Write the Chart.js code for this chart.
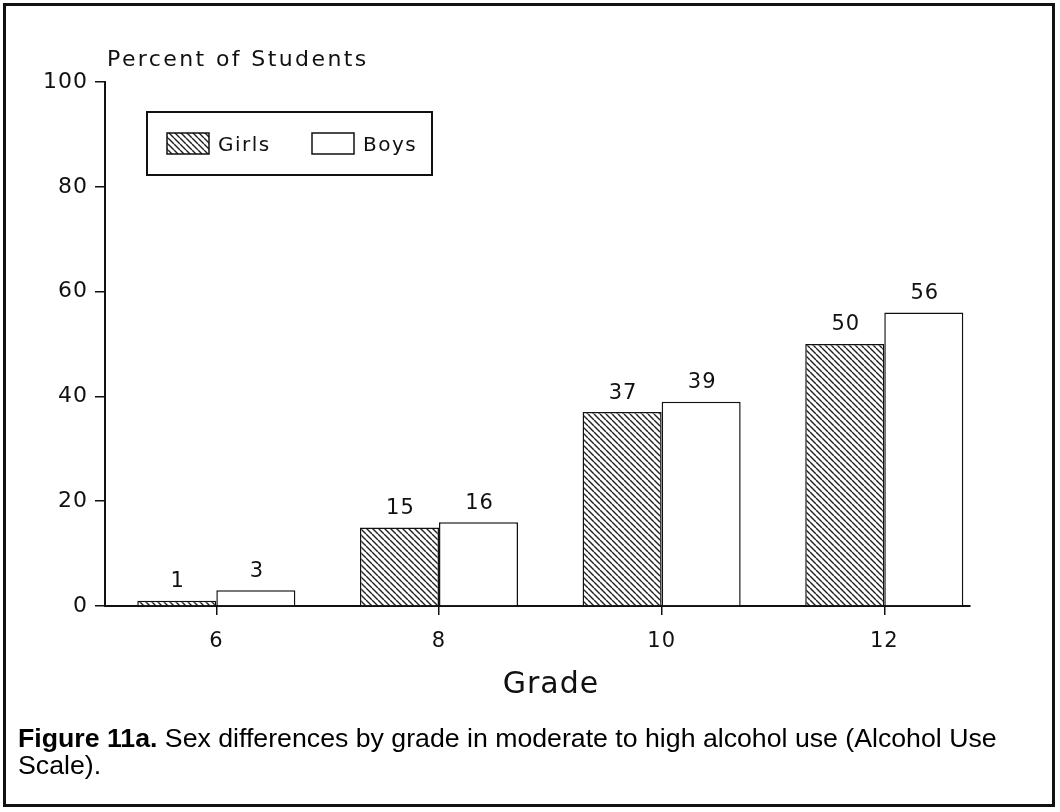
<!DOCTYPE html>
<html>
<head>
<meta charset="utf-8">
<script src="https://cdn.jsdelivr.net/npm/chart.js@4.4.0/dist/chart.umd.min.js"></script>
<style>
  body { margin: 0; background: #fff; }
  #wrap { position: relative; width: 1060px; height: 812px; }
  #myChart { position: absolute; left: 0; top: 0; }
  #frame { position: absolute; left: 3px; top: 3px; width: 1052px; height: 804px; border: 3px solid #111; box-sizing: border-box; pointer-events: none; }
  #caption { position: absolute; left: 18px; top: 725px; font: 26.7px "Liberation Sans", Arial, sans-serif; line-height: 27px; white-space: nowrap; color: #000; }
</style>
</head>
<body>
<div id="wrap">
  <canvas id="myChart" width="1060" height="812"></canvas>
  <div id="frame"></div>
  <div id="caption"><b>Figure 11a.</b> Sex differences by grade in moderate to high alcohol use (Alcohol Use<br>Scale).</div>
</div>
<script>
var grades = [6, 8, 10, 12];
var girls = [1, 15, 37, 50];
var boys = [3, 16, 39, 56];
var yTicks = [0, 20, 40, 60, 80, 100];

var ink = '#111';
var face = '"DejaVu Sans"';
var ctx = document.getElementById('myChart');

// diagonal hatch for the Girls bars
function makeHatch() {
    var c = document.createElement('canvas');
    c.width = 6; c.height = 6;
    var g = c.getContext('2d');
    g.fillStyle = '#fff';
    g.fillRect(0, 0, 6, 6);
    g.strokeStyle = '#222';
    g.lineWidth = 1.4;
    [-6, 0, 6].forEach(function (o) {
        g.beginPath();
        g.moveTo(o, 0);
        g.lineTo(o + 6, 6);
        g.stroke();
    });
    return ctx.getContext('2d').createPattern(c, 'repeat');
}
var hatch = makeHatch();

var spacing = {
    id: 'spacing',
    beforeDraw: function (chart) { chart.ctx.letterSpacing = '1px'; }
};

var valueLabels = {
    id: 'valueLabels',
    afterDatasetsDraw: function (chart) {
        var c = chart.ctx;
        c.save();
        c.font = '21px ' + face;
        c.letterSpacing = '1px';
        c.fillStyle = ink;
        c.textAlign = 'center';
        c.textBaseline = 'middle';
        chart.data.datasets.forEach(function (ds, i) {
            chart.getDatasetMeta(i).data.forEach(function (bar, j) {
                c.fillText(String(ds.data[j].y), bar.x + 1, bar.y - 19);
            });
        });
        c.restore();
    }
};

var extras = {
    id: 'extras',
    afterDraw: function (chart) {
        var c = chart.ctx;
        var area = chart.chartArea;
        c.save();
        c.fillStyle = ink;
        c.textBaseline = 'middle';
        c.textAlign = 'left';
        // y axis caption above the axis
        c.font = '22px ' + face;
        c.letterSpacing = '2.4px';
        c.fillText('Percent of Students', area.left + 2, 60);

        // x axis caption
        c.font = '30px ' + face;
        c.letterSpacing = '1px';
        c.textAlign = 'center';
        c.fillText('Grade', 551, 685);
        c.textAlign = 'left';

        // legend box
        c.strokeStyle = ink;
        c.lineWidth = 2;
        c.strokeRect(147, 112, 285, 63);
        var ds = chart.data.datasets;
        var items = [{ x: 167, text: 218 }, { x: 312, text: 363 }];
        c.font = '20px ' + face;
        c.letterSpacing = '1.5px';
        items.forEach(function (it, i) {
            c.fillStyle = ds[i].backgroundColor;
            c.fillRect(it.x, 133, 42, 21);
            c.lineWidth = 1.5;
            c.strokeRect(it.x, 133, 42, 21);
            c.fillStyle = ink;
            c.fillText(ds[i].label, it.text, 146);
        });
        c.restore();
    }
};

var chart = new Chart(ctx, {
    type: 'bar',
    data: {
        datasets: [{
            label: 'Girls',
            data: grades.map(function (g, i) { return { x: g, y: girls[i] }; }),
            backgroundColor: hatch,
            borderColor: ink,
            borderWidth: 1.5
        }, {
            label: 'Boys',
            data: grades.map(function (g, i) { return { x: g, y: boys[i] }; }),
            backgroundColor: '#fff',
            borderColor: ink,
            borderWidth: 1.5
        }]
    },
    options: {
        responsive: false,
        animation: false,
        categoryPercentage: 0.71,
        barPercentage: 1.0,
        layout: { padding: { left: 0, top: 82, right: 90, bottom: 106 } },
        plugins: { legend: { display: false }, tooltip: { enabled: false } },
        scales: {
            x: {
                type: 'linear',
                offset: false,
                min: 5.0,
                max: 12.77,
                afterBuildTicks: function (s) { s.ticks = grades.map(function (v) { return { value: v }; }); },
                afterFit: function (s) { s.height = 100; },
                grid: { offset: false, drawOnChartArea: false, drawTicks: true, tickLength: 9, color: ink, lineWidth: 1.5 },
                border: { display: true, color: ink, width: 2 },
                ticks: { color: ink, font: { family: 'DejaVu Sans', size: 21 }, padding: 14, maxRotation: 0 }
            },
            y: {
                min: 0,
                max: 100,
                afterBuildTicks: function (s) { s.ticks = yTicks.map(function (v) { return { value: v }; }); },
                afterFit: function (s) { s.width = 105; },
                grid: { drawOnChartArea: false, drawTicks: true, tickLength: 10, color: ink, lineWidth: 1.5 },
                border: { display: true, color: ink, width: 2 },
                ticks: { color: ink, font: { family: 'DejaVu Sans', size: 22 }, padding: 7 }
            }
        }
    },
    plugins: [spacing, valueLabels, extras]
});
</script>
</body>
</html>
